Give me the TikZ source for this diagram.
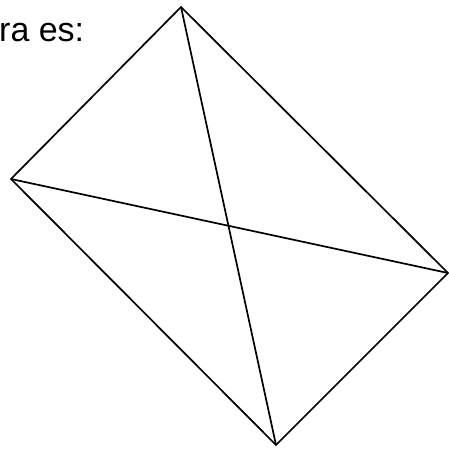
\documentclass[tikz,border=0pt]{standalone}
\usepackage{fontspec}
\setmainfont{Liberation Sans}
\usepackage{tikz}

\begin{document}
\begin{tikzpicture}[
  x=1pt,y=-1pt,
  lado/.style={line width=1.7pt,line join=miter},
  texto/.style={anchor=base west,inner sep=0pt,font=\fontsize{34}{40}\selectfont}]
  \useasboundingbox (0,0) rectangle (449,449);
  \node[texto] (t) at (-1,42) {ra es:};
  \coordinate (ar) at (181,7);
  \coordinate (de) at (448,273);
  \coordinate (ab) at (276,445);
  \coordinate (iz) at (11,179);
  \draw[lado] (ar)--(de)--(ab)--(iz)--cycle;
  \draw[lado] (iz)--(de);
  \draw[lado] (ar)--(ab);
\end{tikzpicture}
\end{document}
